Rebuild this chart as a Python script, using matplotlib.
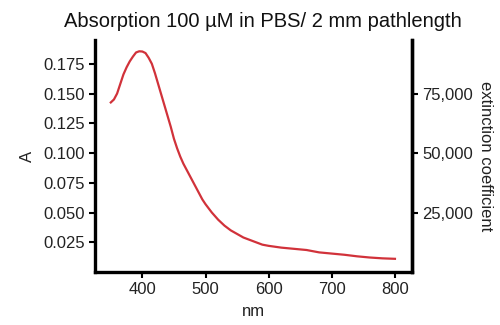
import matplotlib
matplotlib.use("Agg")
import matplotlib.pyplot as plt
from matplotlib.ticker import FuncFormatter

wavelength = [350, 355, 360, 365, 370, 375, 380, 385, 390, 395, 400, 405, 410, 415, 420,
              425, 430, 435, 440, 445, 450, 455, 460, 465, 470, 475, 480, 485, 490, 495,
              500, 510, 520, 530, 540, 550, 560, 570, 580, 590, 600, 620, 640, 660, 680,
              700, 720, 740, 760, 780, 800]
absorbance = [0.1425, 0.145, 0.150, 0.158, 0.166, 0.172, 0.177, 0.181, 0.1845, 0.1855,
              0.1853, 0.184, 0.180, 0.175, 0.167, 0.158, 0.149, 0.140, 0.131, 0.122,
              0.112, 0.104, 0.097, 0.091, 0.086, 0.081, 0.076, 0.071, 0.066, 0.061,
              0.057, 0.050, 0.044, 0.039, 0.035, 0.032, 0.029, 0.027, 0.025, 0.023,
              0.022, 0.0205, 0.0195, 0.0185, 0.0165, 0.0155, 0.0145, 0.0132, 0.0122,
              0.0115, 0.0111]
left_ticks = [0.025, 0.050, 0.075, 0.100, 0.125, 0.150, 0.175]
right_ticks = [25000, 50000, 75000]
x_ticks = [400, 500, 600, 700, 800]
ext_factor = 500000

plt.rcParams['font.family'] = ['Liberation Sans', 'DejaVu Sans']
fig = plt.figure(figsize=(5, 3.25), dpi=100)
ax = fig.add_axes([0.19, 0.163, 0.634, 0.714])
ax.plot(wavelength, absorbance, color='#d1323a', lw=1.6)
ax.set_xlim(325, 827)
ax.set_ylim(0, 0.195)
ax.set_xticks(x_ticks)
ax.set_yticks(left_ticks)
ax.yaxis.set_major_formatter(FuncFormatter(lambda v, p: f"{v:.3f}"))
for s in ['left', 'bottom', 'right']:
    ax.spines[s].set_linewidth(2.4)
    ax.spines[s].set_capstyle('projecting')
ax.spines['top'].set_visible(False)
ax.tick_params(axis='both', width=1.5, length=4, labelsize=12, colors='black', labelcolor='#222222')
ax.set_xlabel('nm', fontsize=12, color='#222222', labelpad=5)
ax.set_ylabel('A', fontsize=12, color='#222222', labelpad=6)
ax.set_title('Absorption 100 \u00b5M in PBS/ 2 mm pathlength', fontsize=14.5, color='#111111',
             pad=9, x=0.528)

sec = ax.secondary_yaxis('right', functions=(lambda a: a * ext_factor, lambda e: e / ext_factor))
sec.set_yticks(right_ticks)
sec.yaxis.set_major_formatter(FuncFormatter(lambda v, p: f"{int(v):,}"))
sec.spines['right'].set_linewidth(2.4)
sec.tick_params(width=1.5, length=4, labelsize=12, labelcolor='#222222')
sec.set_ylabel('extinction coefficient', rotation=270, fontsize=12, color='#222222', labelpad=14)

fig.savefig('out.png', dpi=100)
